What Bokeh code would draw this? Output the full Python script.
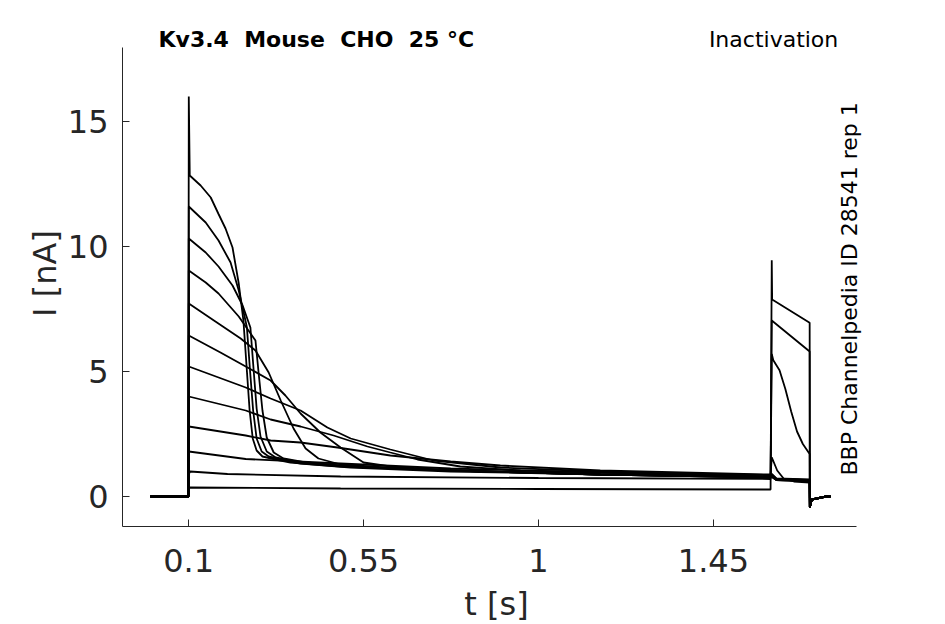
import math
from bokeh.plotting import figure
from bokeh.models import Range1d, FixedTicker, PrintfTickFormatter, Label
from bokeh.embed import file_html
from bokeh.resources import INLINE

# holding potential before the prepulse and tail after the test pulse (shared)
hold_t = [0.002, 0.0995]
hold_i = [0.0, 0.0]
tail_t = [1.698, 1.703, 1.74, 1.751]
tail_i = [-0.43, -0.12, 0.0, 0.0]

# sweeps, largest prepulse current first (t in s, I in nA)
s01_t = [0.1005, 0.103, 0.131, 0.157, 0.177, 0.195, 0.213, 0.229, 0.241, 0.249, 0.257, 0.265,
         0.275, 0.290, 0.324, 0.362, 0.491, 0.774, 1.159, 1.597, 1.6, 1.612, 1.6975]
s01_i = [16.0, 12.84, 12.44, 11.96, 11.3, 10.72, 9.96, 8.52, 7.04, 5.24, 3.44, 2.32,
         1.84, 1.6, 1.48, 1.36, 1.2, 1.04, 0.88, 0.8, 0.9, 0.72, 0.68]
s02_t = [0.1005, 0.144, 0.177, 0.208, 0.229, 0.244, 0.250, 0.258, 0.266, 0.275, 0.288, 0.306,
         0.349, 0.388, 0.517, 0.774, 1.159, 1.597, 1.6, 1.612, 1.6975]
s02_i = [11.6, 10.96, 10.24, 9.36, 8.24, 7.2, 6.76, 5.04, 3.44, 2.32, 1.8, 1.6,
         1.44, 1.32, 1.16, 1.0, 0.88, 0.78, 0.88, 0.7, 0.66]
s03_t = [0.1005, 0.144, 0.177, 0.213, 0.239, 0.259, 0.267, 0.275, 0.285, 0.301, 0.324, 0.375,
         0.517, 0.774, 1.159, 1.597, 1.6, 1.612, 1.6975]
s03_i = [10.32, 9.76, 9.2, 8.44, 7.64, 6.76, 5.12, 3.52, 2.4, 1.8, 1.56, 1.4,
         1.2, 1.04, 0.88, 0.76, 0.86, 0.7, 0.65]
s04_t = [0.1005, 0.144, 0.177, 0.229, 0.272, 0.280, 0.290, 0.301, 0.319, 0.344, 0.401, 0.517,
         0.774, 1.159, 1.597, 1.6, 1.612, 1.6975]
s04_i = [9.04, 8.56, 8.12, 7.2, 6.24, 4.96, 3.44, 2.36, 1.76, 1.52, 1.36, 1.2,
         1.04, 0.88, 0.76, 0.84, 0.68, 0.64]
s05_t = [0.1005, 0.169, 0.234, 0.272, 0.306, 0.337, 0.370, 0.401, 0.434, 0.491, 0.645, 1.159,
         1.597, 1.6, 1.612, 1.6975]
s05_i = [7.72, 7.0, 6.32, 5.84, 4.96, 3.84, 2.72, 1.92, 1.52, 1.28, 1.12, 0.88,
         0.76, 0.82, 0.68, 0.64]
s06_t = [0.1005, 0.182, 0.247, 0.311, 0.349, 0.388, 0.439, 0.491, 0.550, 0.619, 0.774, 1.159,
         1.597, 1.6, 1.612, 1.6975]
s06_i = [6.44, 5.76, 5.2, 4.64, 4.04, 3.32, 2.56, 1.96, 1.36, 1.2, 1.04, 0.88,
         0.76, 0.8, 0.66, 0.62]
s07_t = [0.1005, 0.247, 0.311, 0.388, 0.457, 0.517, 0.619, 0.730, 0.902, 1.159, 1.597,
         1.6, 1.612, 1.6975]
s07_i = [5.2, 4.36, 3.92, 3.44, 2.76, 2.32, 1.88, 1.44, 1.16, 1.0, 0.8,
         0.8, 0.66, 0.62]
s08_t = [0.1005, 0.247, 0.311, 0.388, 0.473, 0.560, 0.619, 0.689, 0.799, 0.954, 1.159, 1.597,
         1.6, 1.612, 1.6975]
s08_i = [4.0, 3.44, 3.08, 2.8, 2.44, 2.0, 1.76, 1.48, 1.2, 1.04, 0.96, 0.8,
         0.78, 0.66, 0.62]
s09_t = [0.1005, 0.247, 0.311, 0.388, 0.483, 0.619, 0.774, 0.902, 1.159, 1.597,
         1.6, 1.614, 1.631, 1.657, 1.6975]
s09_i = [2.8, 2.44, 2.24, 2.16, 1.96, 1.64, 1.4, 1.24, 1.04, 0.88,
         1.57, 1.04, 0.71, 0.6, 0.56]
s10_t = [0.1005, 0.247, 0.491, 0.774, 1.159, 1.597,
         1.6, 1.604, 1.62, 1.635, 1.65, 1.665, 1.68, 1.6975]
s10_i = [1.8, 1.5, 1.32, 1.12, 0.96, 0.86,
         5.7, 5.45, 5.05, 4.3, 3.4, 2.6, 2.1, 1.7]
s11_t = [0.1005, 0.104, 0.2, 0.491, 1.0, 1.597, 1.6, 1.6975]
s11_i = [0.9, 1.0, 0.9, 0.8, 0.74, 0.7, 7.04, 5.8]
s12_t = [0.1005, 0.104, 0.491, 1.0, 1.597, 1.6, 1.601, 1.6975]
s12_i = [0.3, 0.36, 0.32, 0.3, 0.28, 9.45, 7.88, 6.95]

sweeps = [(s01_t, s01_i), (s02_t, s02_i), (s03_t, s03_i), (s04_t, s04_i),
          (s05_t, s05_i), (s06_t, s06_i), (s07_t, s07_i), (s08_t, s08_i),
          (s09_t, s09_i), (s10_t, s10_i), (s11_t, s11_i), (s12_t, s12_i)]

x_ticks = [0.1, 0.55, 1.0, 1.45]
y_ticks = [0, 5, 10, 15]
x_span = (-0.07, 1.818)
y_span = (-1.2, 17.96)

FONT = "DejaVu Sans"
AX = "#262626"

# frame is a little larger than the axes so the header texts are not clipped
p = figure(frame_width=748, frame_height=506, output_backend="svg", toolbar_location=None,
           x_range=Range1d(x_span[0], 1.854), y_range=Range1d(y_span[0], 19.04),
           min_border_left=122, min_border_right=60, min_border_top=20, min_border_bottom=98)
p.outline_line_color = None
p.grid.visible = False
p.background_fill_color = "white"

for t, i in sweeps:
    p.line(hold_t + t + tail_t, hold_i + i + tail_i, line_color="black", line_width=1.8)

p.xaxis.ticker = FixedTicker(ticks=x_ticks)
p.xaxis.formatter = PrintfTickFormatter(format="%g")
p.yaxis.ticker = FixedTicker(ticks=y_ticks)
p.xaxis.bounds = x_span
p.yaxis.bounds = y_span
p.xaxis.axis_label = "t [s]"
p.yaxis.axis_label = "I [nA]"
for ax in (p.xaxis, p.yaxis):
    ax.axis_line_color = AX
    ax.major_tick_line_color = AX
    ax.major_tick_in = 7
    ax.major_tick_out = 0
    ax.minor_tick_line_color = None
    ax.major_label_text_font = FONT
    ax.major_label_text_font_size = "32px"
    ax.major_label_text_color = AX
    ax.axis_label_text_font = FONT
    ax.axis_label_text_font_size = "32px"
    ax.axis_label_text_font_style = "normal"
    ax.axis_label_text_color = AX
p.xaxis.major_label_standoff = 22
p.xaxis.axis_label_standoff = 10
p.yaxis.major_label_standoff = 14
p.yaxis.axis_label_standoff = 1

p.add_layout(Label(x=0.0226, y=18.27, text="Kv3.4 \u00a0Mouse \u00a0CHO \u00a025 °C",
                   text_font=FONT, text_font_size="22px", text_font_style="bold",
                   text_color="black", text_baseline="alphabetic"))
p.add_layout(Label(x=1.7711, y=18.27, text="Inactivation", text_font=FONT,
                   text_font_size="22px", text_color="black", text_align="right",
                   text_baseline="alphabetic"))
p.add_layout(Label(x=1.7994, y=0.84, angle=math.pi / 2,
                   text="BBP Channelpedia ID 28541 rep 1", text_font=FONT,
                   text_font_size="22px", text_color="black", text_align="left",
                   text_baseline="alphabetic"))

open("out.html", "w").write(file_html(p, INLINE))
